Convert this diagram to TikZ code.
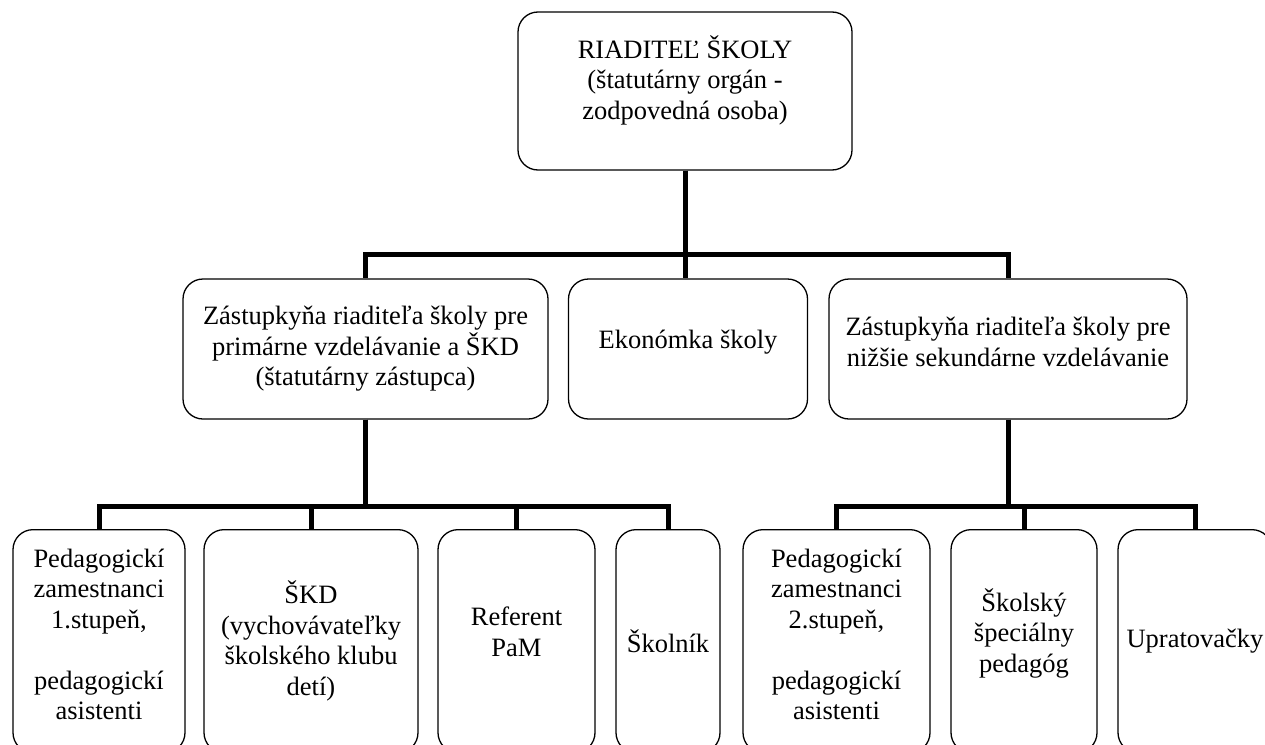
\documentclass[tikz,border=0pt]{standalone}
\usepackage{fontspec}
\setmainfont{Liberation Serif}
\newcommand{\lift}[1]{\rule[-#1]{0pt}{#1}}

\begin{document}
\begin{tikzpicture}[x=1pt, y=-1pt,
    box/.style={draw, line width=1.3pt, rounded corners=20pt, align=center, inner sep=2pt, font=\fontsize{26.5}{30.5}\selectfont},
    low/.style={box, minimum height=223pt, anchor=north},
    link/.style={line width=5pt}]
    \clip (0,0) rectangle (1265,744);
    \useasboundingbox (0,0) rectangle (1265,744);
    \node[box, minimum width=334pt, minimum height=158pt] (dir) at (685,91) {RIADITEĽ ŠKOLY\\(štatutárny orgán -\\zodpovedná osoba)\lift{27pt}};
    \node[box, minimum width=365pt, minimum height=140pt] (zast1) at (365.5,349) {Zástupkyňa riaditeľa školy pre\\primárne vzdelávanie a ŠKD\\(štatutárny zástupca)};
    \node[box, minimum width=239pt, minimum height=140pt] (ekon) at (688,349) {Ekonómka školy\lift{20pt}};
    \node[box, minimum width=358pt, minimum height=140pt] (zast2) at (1008,349) {Zástupkyňa riaditeľa školy pre\\nižšie sekundárne vzdelávanie\lift{14pt}};
    \node[low, minimum width=172pt] (ped1) at (99,529) {Pedagogickí\\zamestnanci\\1.stupeň,\\[30.5pt]pedagogickí\\asistenti\lift{14pt}};
    \node[low, minimum width=214pt] (skd) at (311,529) {ŠKD\\(vychovávateľky\\školského klubu\\detí)};
    \node[low, minimum width=157pt] (ref) at (516.5,529) {Referent\\PaM\lift{19pt}};
    \node[low, minimum width=104pt] (skolnik) at (668,529) {Školník};
    \node[low, minimum width=187pt] (ped2) at (836.5,529) {Pedagogickí\\zamestnanci\\2.stupeň,\\[30.5pt]pedagogickí\\asistenti\lift{14pt}};
    \node[low, minimum width=146pt] (spec) at (1024,529) {Školský\\špeciálny\\pedagóg\lift{22pt}};
    \node[low, minimum width=154pt] (uprat) at (1195,529) {Upratovačky};
    \draw[link] (dir.south) -- ++(0,84) -| (zast1.north);
    \draw[link] (dir.south) -- ++(0,84) -| (zast2.north);
    \draw[link] (dir.south) -- (dir.south |- ekon.north);
    \draw[link] (zast1.south) -- ++(0,87) -| (ped1.north);
    \draw[link] (zast1.south) -- ++(0,87) -| (skd.north);
    \draw[link] (zast1.south) -- ++(0,87) -| (ref.north);
    \draw[link] (zast1.south) -- ++(0,87) -| (skolnik.north);
    \draw[link] (zast2.south) -- ++(0,87) -| (ped2.north);
    \draw[link] (zast2.south) -- ++(0,87) -| (spec.north);
    \draw[link] (zast2.south) -- ++(0,87) -| (uprat.north);
\end{tikzpicture}
\end{document}
